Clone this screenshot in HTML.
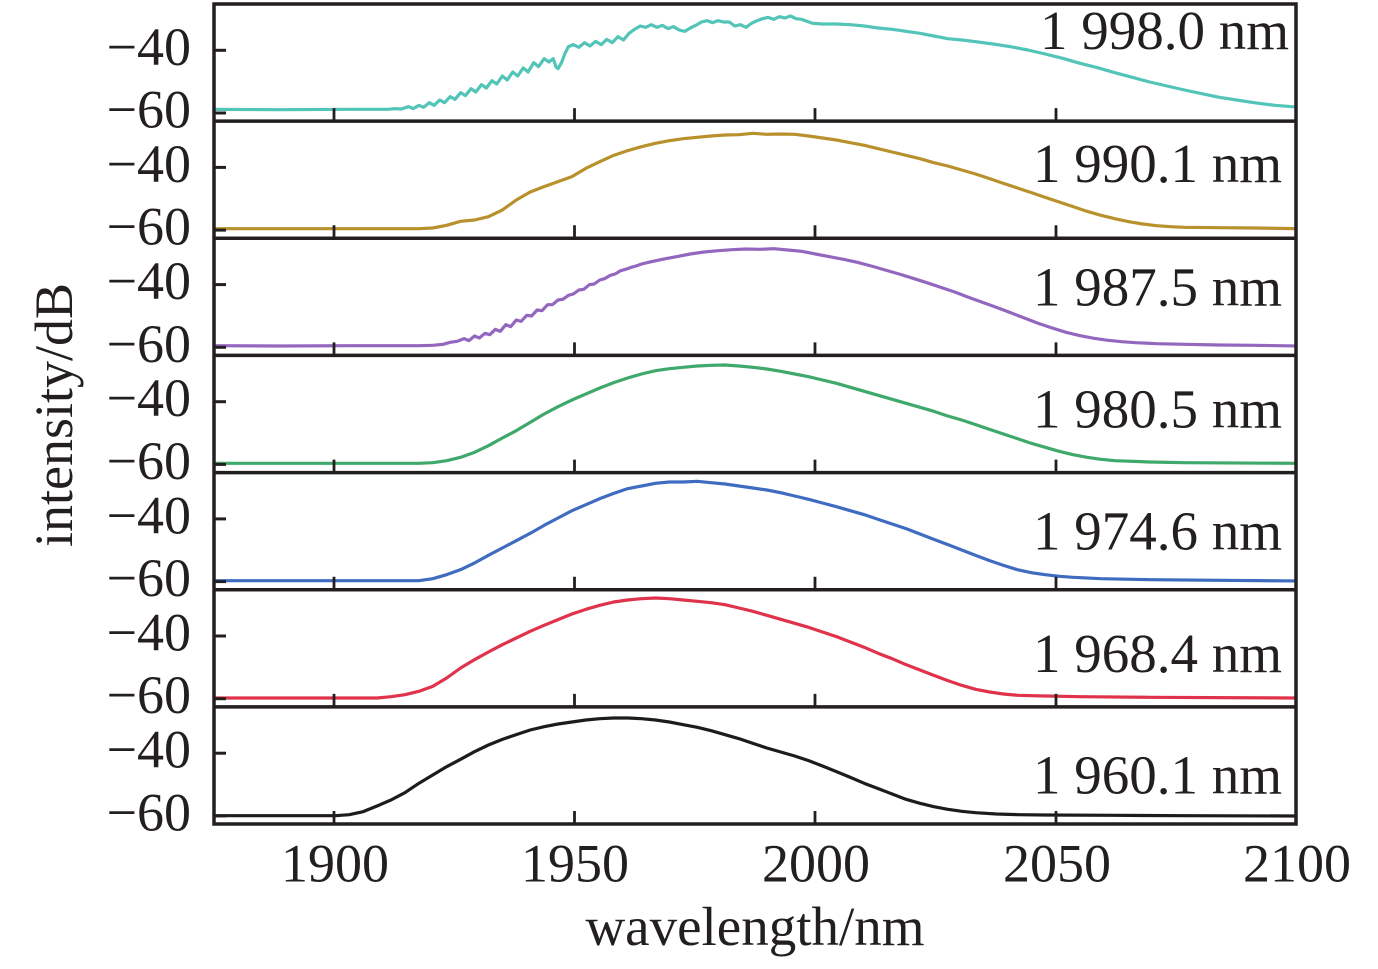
<!DOCTYPE html>
<html>
<head>
<meta charset="utf-8">
<style>
html,body{margin:0;padding:0;background:#fff;}
svg{display:block;}
text{font-family:"Liberation Serif","Times New Roman",serif;fill:#231f20;}
</style>
</head>
<body>
<svg width="1378" height="969" viewBox="0 0 1378 969" xmlns="http://www.w3.org/2000/svg">
<defs>
<clipPath id="pc"><rect x="215" y="5" width="1080" height="818"/></clipPath>
</defs>
<rect width="1378" height="969" fill="#fff"/>

<g fill="none" stroke-width="3.2" stroke-linejoin="round" stroke-linecap="round" clip-path="url(#pc)">
<g transform="translate(210,0) scale(0.69604,0.33333)">
<polyline vector-effect="non-scaling-stroke" stroke="#52c4b8" points="0,328 100,329 200,328 255,328 265,326 275,327 285,320 292,326 300,316 307,322 315,308 322,316 330,300 337,308 345,290 352,298 360,278 367,287 375,266 382,276 390,254 397,264 405,242 412,252 420,228 427,240 435,216 442,228 450,204 457,216 465,188 472,200 480,176 487,186 493,176 497,200 500,206 505,188 510,160 515,140 522,134 530,142 538,128 546,138 554,124 562,134 570,118 578,128 586,110 594,120 602,100 610,88 618,78 626,82 634,74 642,82 650,76 658,86 666,80 674,90 682,94 690,84 698,76 706,66 714,62 722,68 730,62 738,66 746,66 754,78 762,74 770,82 778,70 786,62 794,56 802,52 810,58 818,50 826,54 834,48 842,56 850,58 858,64 866,70 880,72 900,72 920,74 940,78 960,84 980,88 1000,94 1020,100 1040,108 1060,116 1080,120 1100,125 1125,132 1150,140 1175,150 1200,162 1225,175 1250,190 1275,203 1300,218 1325,232 1350,246 1375,258 1400,270 1425,281 1450,292 1475,300 1500,308 1530,316 1566,322"/>
<polyline vector-effect="non-scaling-stroke" stroke="#b8912c" points="0,686 100,686 200,686 300,686 320,684 340,676 360,664 380,660 400,650 420,630 440,600 460,576 480,560 500,545 520,530 540,505 560,485 580,466 600,452 620,440 640,430 660,422 680,416 700,412 720,408 740,405 760,404 780,400 800,403 820,402 840,403 860,408 880,414 900,420 920,428 940,436 960,446 980,456 1000,466 1020,476 1040,488 1060,498 1080,510 1100,522 1120,536 1140,550 1160,564 1180,578 1200,592 1220,606 1240,620 1260,634 1280,646 1300,656 1320,665 1340,672 1360,677 1380,680 1400,682 1450,683 1500,684 1566,686"/>
</g>
<g transform="translate(210,234) scale(0.69604,0.33333)">
<polyline vector-effect="non-scaling-stroke" stroke="#9467bf" points="0,335 100,336 200,335 300,335 320,334 335,331 345,325 355,322 365,314 372,320 380,306 387,312 395,298 402,302 410,286 417,292 425,272 432,278 440,258 447,262 455,244 462,246 470,228 477,230 485,212 492,212 500,198 507,196 515,184 522,180 530,168 537,166 545,152 552,150 560,138 567,134 575,124 582,120 590,110 597,106 605,100 612,96 620,90 630,85 650,76 670,68 690,60 710,54 730,50 750,47 770,45 790,46 810,44 830,48 850,52 870,60 890,68 910,76 930,85 950,96 970,108 990,120 1010,133 1030,146 1050,160 1070,174 1090,190 1110,205 1130,220 1150,236 1170,252 1190,268 1210,282 1230,295 1250,305 1270,313 1290,319 1310,323 1330,326 1360,329 1400,331 1450,333 1500,334 1566,336"/>
<polyline vector-effect="non-scaling-stroke" stroke="#3ea96a" points="0,688 100,688 200,688 300,688 320,686 340,680 360,670 380,655 400,635 420,612 440,590 460,565 480,540 500,518 520,498 540,480 560,462 580,446 600,432 620,420 640,410 660,404 680,400 700,396 720,394 740,393 760,396 780,400 800,405 820,412 840,420 860,428 880,438 900,448 920,460 940,472 960,484 980,496 1000,508 1020,520 1040,532 1060,546 1080,558 1100,572 1120,586 1140,600 1160,614 1180,628 1200,640 1220,652 1240,662 1260,670 1280,676 1300,680 1350,684 1400,686 1566,688"/>
</g>
<g transform="translate(210,468) scale(0.69604,0.33333)">
<polyline vector-effect="non-scaling-stroke" stroke="#3f6cc0" points="0,338 100,338 200,338 300,338 320,332 340,320 360,305 380,285 400,262 420,240 440,218 460,196 480,172 500,150 520,128 540,110 560,92 580,76 600,62 620,54 640,46 660,42 680,42 700,40 720,44 740,48 760,54 780,60 800,66 820,74 840,84 860,94 880,105 900,116 920,128 940,140 960,154 980,168 1000,182 1020,198 1040,214 1060,230 1080,246 1100,262 1120,278 1140,292 1160,305 1180,314 1200,320 1220,325 1240,328 1280,332 1350,335 1450,337 1566,339"/>
<polyline vector-effect="non-scaling-stroke" stroke="#e0334b" points="0,690 100,690 200,690 240,690 260,686 280,680 300,670 320,655 340,630 360,600 380,575 400,552 420,530 440,510 460,490 480,472 500,455 520,438 540,424 560,412 580,402 600,396 620,392 640,390 660,392 680,396 700,400 720,404 740,410 760,420 780,430 800,442 820,454 840,466 860,478 880,492 900,506 920,522 940,538 960,556 980,572 1000,590 1020,606 1040,622 1060,638 1080,652 1100,664 1120,672 1140,678 1160,682 1200,684 1250,686 1350,688 1566,690"/>
</g>
<g transform="translate(210,700) scale(0.69604,0.33333)">
<polyline vector-effect="non-scaling-stroke" stroke="#1e1b1c" points="0,347 100,347 180,347 200,344 220,335 240,318 260,300 280,278 300,250 320,225 340,200 360,178 380,155 400,135 420,118 440,104 460,90 480,80 500,72 520,66 540,60 560,56 580,54 600,54 620,56 640,60 660,66 680,74 700,82 720,92 740,104 760,116 780,130 800,144 820,156 840,168 860,182 880,198 900,215 920,232 940,250 960,266 980,282 1000,298 1020,310 1040,320 1060,328 1080,334 1100,338 1130,342 1160,344 1200,345 1300,346 1400,347 1566,348"/>
</g>
</g>

<g stroke="#231f20" fill="none">
<rect x="214" y="4" width="1082" height="820" stroke-width="3.5"/>
<g stroke-width="3.5">
<line x1="214" y1="121.1" x2="1296" y2="121.1"/>
<line x1="214" y1="238.3" x2="1296" y2="238.3"/>
<line x1="214" y1="355.4" x2="1296" y2="355.4"/>
<line x1="214" y1="472.6" x2="1296" y2="472.6"/>
<line x1="214" y1="589.7" x2="1296" y2="589.7"/>
<line x1="214" y1="706.9" x2="1296" y2="706.9"/>
</g>
<g stroke-width="3">
<line x1="214" y1="50.3" x2="226" y2="50.3"/><line x1="214" y1="113" x2="226" y2="113"/>
<line x1="214" y1="167.4" x2="226" y2="167.4"/><line x1="214" y1="230.1" x2="226" y2="230.1"/>
<line x1="214" y1="284.6" x2="226" y2="284.6"/><line x1="214" y1="347.3" x2="226" y2="347.3"/>
<line x1="214" y1="401.7" x2="226" y2="401.7"/><line x1="214" y1="464.4" x2="226" y2="464.4"/>
<line x1="214" y1="518.9" x2="226" y2="518.9"/><line x1="214" y1="581.6" x2="226" y2="581.6"/>
<line x1="214" y1="636" x2="226" y2="636"/><line x1="214" y1="698.7" x2="226" y2="698.7"/>
<line x1="214" y1="753.2" x2="226" y2="753.2"/><line x1="214" y1="815.9" x2="226" y2="815.9"/>
</g>
<g stroke-width="2.8">
<path d="M334 121.1v-13M574.5 121.1v-13M815 121.1v-13M1056 121.1v-13"/>
<path d="M334 238.3v-13M574.5 238.3v-13M815 238.3v-13M1056 238.3v-13"/>
<path d="M334 355.4v-13M574.5 355.4v-13M815 355.4v-13M1056 355.4v-13"/>
<path d="M334 472.6v-13M574.5 472.6v-13M815 472.6v-13M1056 472.6v-13"/>
<path d="M334 589.7v-13M574.5 589.7v-13M815 589.7v-13M1056 589.7v-13"/>
<path d="M334 706.9v-13M574.5 706.9v-13M815 706.9v-13M1056 706.9v-13"/>
<path d="M334 824v-13M574.5 824v-13M815 824v-13M1056 824v-13"/>
</g>
</g>

<g font-size="54" text-anchor="end">
<text x="191" y="64.8">−40</text><text x="191" y="127.5">−60</text>
<text x="191" y="181.9">−40</text><text x="191" y="244.6">−60</text>
<text x="191" y="299.1">−40</text><text x="191" y="361.8">−60</text>
<text x="191" y="416.2">−40</text><text x="191" y="478.9">−60</text>
<text x="191" y="533.4">−40</text><text x="191" y="596.1">−60</text>
<text x="191" y="650.5">−40</text><text x="191" y="713.2">−60</text>
<text x="191" y="767.7">−40</text><text x="191" y="830.4">−60</text>
</g>

<g font-size="54" text-anchor="middle">
<text x="335" y="881.5">1900</text>
<text x="575" y="881.5">1950</text>
<text x="816" y="881.5">2000</text>
<text x="1057" y="881.5">2050</text>
<text x="1297" y="881.5">2100</text>
</g>

<g font-size="55" text-anchor="end">
<text x="1289" y="49">1 998.0 nm</text>
<text x="1282" y="182">1 990.1 nm</text>
<text x="1282" y="305.5">1 987.5 nm</text>
<text x="1282" y="427.3">1 980.5 nm</text>
<text x="1282" y="549.7">1 974.6 nm</text>
<text x="1282" y="672">1 968.4 nm</text>
<text x="1282" y="793.3">1 960.1 nm</text>
</g>

<text x="755" y="945" font-size="55" text-anchor="middle">wavelength/nm</text>
<text x="0" y="0" font-size="54" text-anchor="middle" transform="translate(72,415) rotate(-90)">intensity/dB</text>
</svg>
</body>
</html>
